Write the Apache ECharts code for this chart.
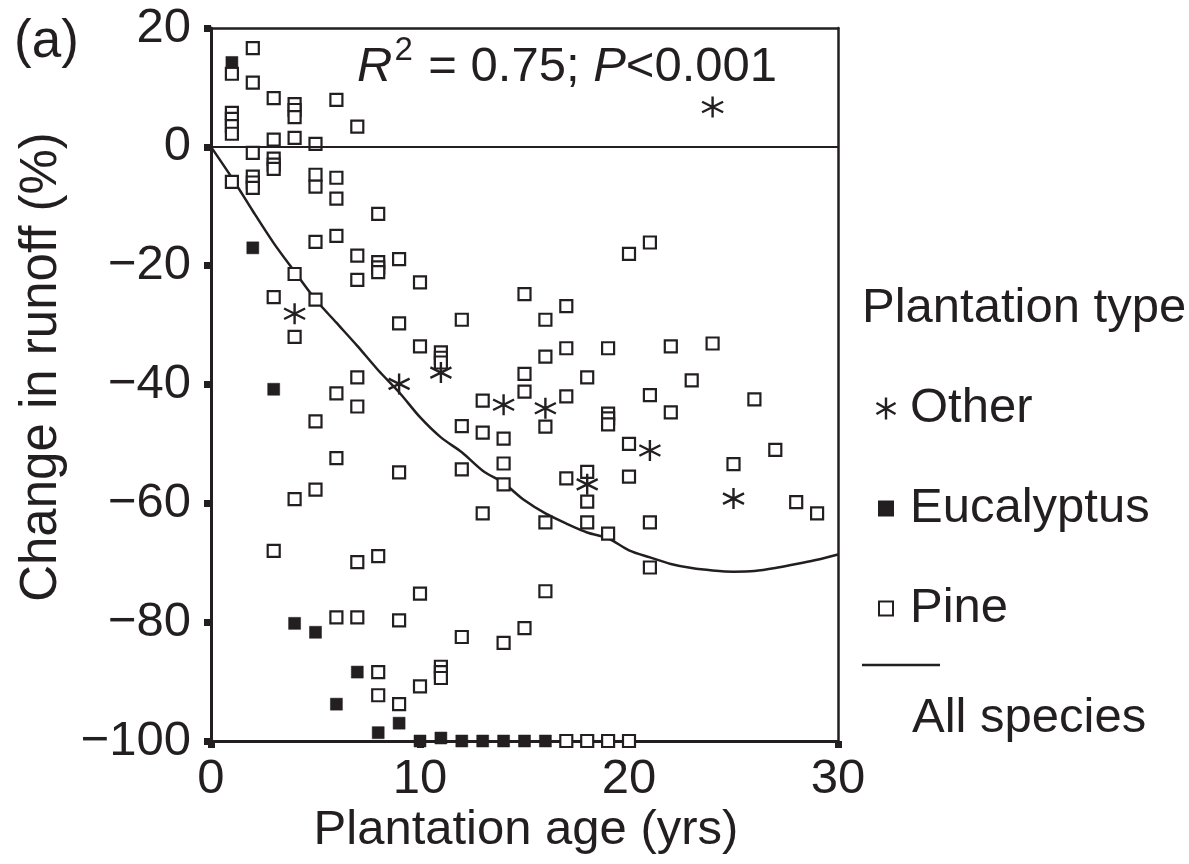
<!DOCTYPE html>
<html>
<head>
<meta charset="utf-8">
<script src="https://cdn.jsdelivr.net/npm/echarts@6/dist/echarts.min.js"></script>
<style>
  html, body { margin: 0; padding: 0; background: #fff; }
  #chart { width: 1189px; height: 864px; }
</style>
</head>
<body>
<div id="chart"></div>
<script>
// --- data ---
const pine = [
  [1, 12.3], [1, 5.7], [1, 4.7], [1, 3.5], [1, 2.2], [1, -5.9],
  [2, 16.6], [2, 10.8], [2, -1], [2, -5], [2, -6], [2, -6.9],
  [3, 8.2], [3, 1.2], [3, -2], [3, -3], [3, -3.7], [3, -25.3], [3, -68],
  [4, 7.2], [4, 6.2], [4, 5.0], [4, 1.5], [4, -21.4], [4, -32], [4, -59.3],
  [5, 0.5], [5, -4.7], [5, -6.7], [5, -16], [5, -25.7], [5, -46.2], [5, -57.7],
  [6, 7.9], [6, -5.2], [6, -8.7], [6, -15], [6, -41.5], [6, -52.4], [6, -79.2],
  [7, 3.4], [7, -18.3], [7, -22.4], [7, -38.8], [7, -43.7], [7, -69.9], [7, -79.2],
  [8, -11.3], [8, -19.4], [8, -20.3], [8, -21.1], [8, -68.9], [8, -88.4], [8, -92.3],
  [9, -18.9], [9, -29.7], [9, -54.8], [9, -79.7], [9, -93.8],
  [10, -22.8], [10, -33.6], [10, -75.2], [10, -90.8],
  [11, -34.6], [11, -35.5], [11, -36.3], [11, -87.5], [11, -88.4], [11, -89.4],
  [12, -29.1], [12, -47], [12, -54.3], [12, -82.5],
  [13, -42.7], [13, -48.1], [13, -61.7],
  [14, -49.1], [14, -53.3], [14, -56.8], [14, -83.5],
  [15, -24.8], [15, -38.2], [15, -41.2], [15, -81],
  [16, -29.1], [16, -35.3], [16, -47.1], [16, -63.2], [16, -74.8],
  [17, -26.8], [17, -33.9], [17, -42], [17, -55.8], [17, -100],
  [18, -38.8], [18, -54.7], [18, -59.7], [18, -63.2], [18, -100],
  [19, -33.9], [19, -44.9], [19, -45.7], [19, -46.7], [19, -65.1], [19, -100],
  [20, -18], [20, -50], [20, -55.5], [20, -100],
  [21, -16.1], [21, -41.8], [21, -63.2], [21, -70.8],
  [22, -33.6], [22, -44.7],
  [23, -39.3], [24, -33.1], [25, -53.4], [26, -42.5],
  [27, -51], [28, -59.8], [29, -61.7]
]

const eucalyptus = [
  [1, 14.2], [2, -17], [3, -40.8], [4, -80.2], [5, -81.7], [6, -93.8],
  [7, -88.4], [8, -98.6], [9, -97], [10, -100], [11, -99.5],
  [12, -100], [13, -100], [14, -100], [15, -100], [16, -100]
]

const other = [
  [4, -28.1], [9, -39.9], [11, -38], [14, -43.4], [16, -44],
  [18, -56.8], [21, -51.1], [24, 6.7], [25, -59.2]
]

// fitted curve, all species
const curveAge = [0, 1, 2, 3, 4, 5, 6, 7, 8, 9, 10, 11, 12, 13, 14, 15,
  16, 17, 18, 19, 20, 21, 22, 23, 24, 25, 26, 27, 28, 29, 30]
const curveChange = [0, -5.2, -10.8, -16.2, -21, -25.7, -29.6, -33.5, -37.6, -41.3,
  -45.5, -48.9, -51.4, -54.5, -56.6, -59.5, -61.7, -63.4, -64.9, -65.9,
  -67.9, -69.1, -70.2, -70.9, -71.3, -71.5, -71.4, -70.9, -70.2, -69.5, -68.6]

const xTicks = [0, 10, 20, 30]
const yTicks = [-100, -80, -60, -40, -20, 0, 20]

const ink = '#231f20'
const font = '"Liberation Sans", Arial, Helvetica, sans-serif'
const starPath = 'path://M0,-10L0,10M-8.66,-5L8.66,5M-8.66,5L8.66,-5'
// legend squares: invisible corner moves keep the icon smaller than the star
const legendSquare = 'path://M0,0M22,22M4,4L18,4L18,18L4,18Z'

const chart = echarts.init(document.getElementById('chart'))

const minusFmt = (v) => (v < 0 ? '\u2212' + Math.abs(v) : String(v))

chart.setOption({
  animation: false,
  backgroundColor: '#fff',
  textStyle: { fontFamily: font, color: ink },
  grid: { left: 211, right: 351, top: 28, bottom: 123, outerBoundsMode: 'none' },
  xAxis: [{
    type: 'value',
    min: xTicks[0],
    max: xTicks[xTicks.length - 1],
    interval: 10,
    splitLine: { show: false },
    axisLine: { show: true, onZero: false, lineStyle: { color: ink, width: 3 } },
    axisTick: { length: 7, lineStyle: { color: ink, width: 7 } },
    axisLabel: { color: ink, fontSize: 49, fontFamily: font, margin: 14 },
  }, {
    type: 'value',
    position: 'top',
    min: xTicks[0],
    max: xTicks[xTicks.length - 1],
    splitLine: { show: false },
    axisLine: { show: true, onZero: false, lineStyle: { color: ink, width: 2.5 } },
    axisTick: { show: false },
    axisLabel: { show: false },
  }],
  yAxis: [{
    type: 'value',
    min: yTicks[0],
    max: yTicks[yTicks.length - 1],
    interval: 20,
    splitLine: { show: false },
    axisLine: { show: true, onZero: false, lineStyle: { color: ink, width: 3 } },
    axisTick: { length: 7, lineStyle: { color: ink, width: 7 } },
    axisLabel: { color: ink, fontSize: 49, fontFamily: font, margin: 20, formatter: minusFmt },
  }, {
    type: 'value',
    position: 'right',
    min: yTicks[0],
    max: yTicks[yTicks.length - 1],
    splitLine: { show: false },
    axisLine: { show: true, onZero: false, lineStyle: { color: ink, width: 2.5 } },
    axisTick: { show: false },
    axisLabel: { show: false },
  }],
  legend: {
    orient: 'vertical',
    left: 874,
    top: 384,
    padding: 0,
    itemGap: 51,
    itemWidth: 22,
    itemHeight: 22,
    textStyle: { fontSize: 49, lineHeight: 49, color: ink, fontFamily: font, padding: [0, 0, 0, 8] },
    data: [
      { name: 'Other', icon: starPath, itemStyle: { borderWidth: 2.4 } },
      { name: 'Eucalyptus', icon: legendSquare },
      { name: 'Pine', icon: legendSquare },
    ],
  },
  series: [
    {
      name: 'All species',
      type: 'line',
      data: curveAge.map((a, i) => [a, curveChange[i]]),
      showSymbol: false,
      smooth: 0.3,
      lineStyle: { color: ink, width: 2.5 },
      z: 1,
      markLine: {
        silent: true,
        symbol: ['none', 'none'],
        label: { show: false },
        lineStyle: { color: ink, width: 2, type: 'solid' },
        data: [{ yAxis: 0 }],
      },
    },
    {
      name: 'Pine',
      type: 'scatter',
      data: pine,
      symbol: 'rect',
      symbolSize: 12,
      itemStyle: { color: '#fff', borderColor: ink, borderWidth: 2.2, opacity: 1 },
      z: 3,
    },
    {
      name: 'Eucalyptus',
      type: 'scatter',
      data: eucalyptus,
      symbol: 'rect',
      symbolSize: 12,
      itemStyle: { color: ink, borderColor: ink, borderWidth: 0.5, opacity: 1 },
      z: 4,
    },
    {
      name: 'Other',
      type: 'scatter',
      data: other,
      symbol: starPath,
      symbolSize: 21,
      itemStyle: { color: ink, borderColor: ink, borderWidth: 2.4, opacity: 1 },
      z: 5,
    },
  ],
  graphic: [
    {
      type: 'text', left: 14, top: 16,
      style: { text: '(a)', font: '53px ' + font, fill: ink },
    },
    {
      type: 'text', x: 42, y: 367, rotation: Math.PI / 2,
      style: { text: 'Change in runoff (%)', font: '51px ' + font, fill: ink, align: 'center', verticalAlign: 'middle' },
    },
    {
      type: 'text', x: 526, y: 830,
      style: { text: 'Plantation age (yrs)', font: '49px ' + font, fill: ink, align: 'center', verticalAlign: 'middle' },
    },
    {
      type: 'text', x: 357, y: 67,
      style: {
        text: '{i|R}{sup|2}{n| = 0.75; }{i|P}{n|<0.001}',
        fill: ink,
        verticalAlign: 'middle',
        rich: {
          n: { fontSize: 49, fontFamily: font, fill: ink },
          i: { fontStyle: 'italic', fontSize: 49, fontFamily: font, fill: ink },
          sup: { fontSize: 33, fontFamily: font, fill: ink, padding: [0, 2, 32, 2] },
        },
      },
    },
    {
      type: 'text', x: 862, y: 308,
      style: { text: 'Plantation type', font: '49px ' + font, fill: ink, verticalAlign: 'middle' },
    },
    {
      type: 'line',
      shape: { x1: 862, y1: 665, x2: 940, y2: 665 },
      style: { stroke: ink, lineWidth: 2.5 },
    },
    {
      type: 'text', x: 912, y: 718,
      style: { text: 'All species', font: '49px ' + font, fill: ink, verticalAlign: 'middle' },
    },
  ],
})
</script>
</body>
</html>
